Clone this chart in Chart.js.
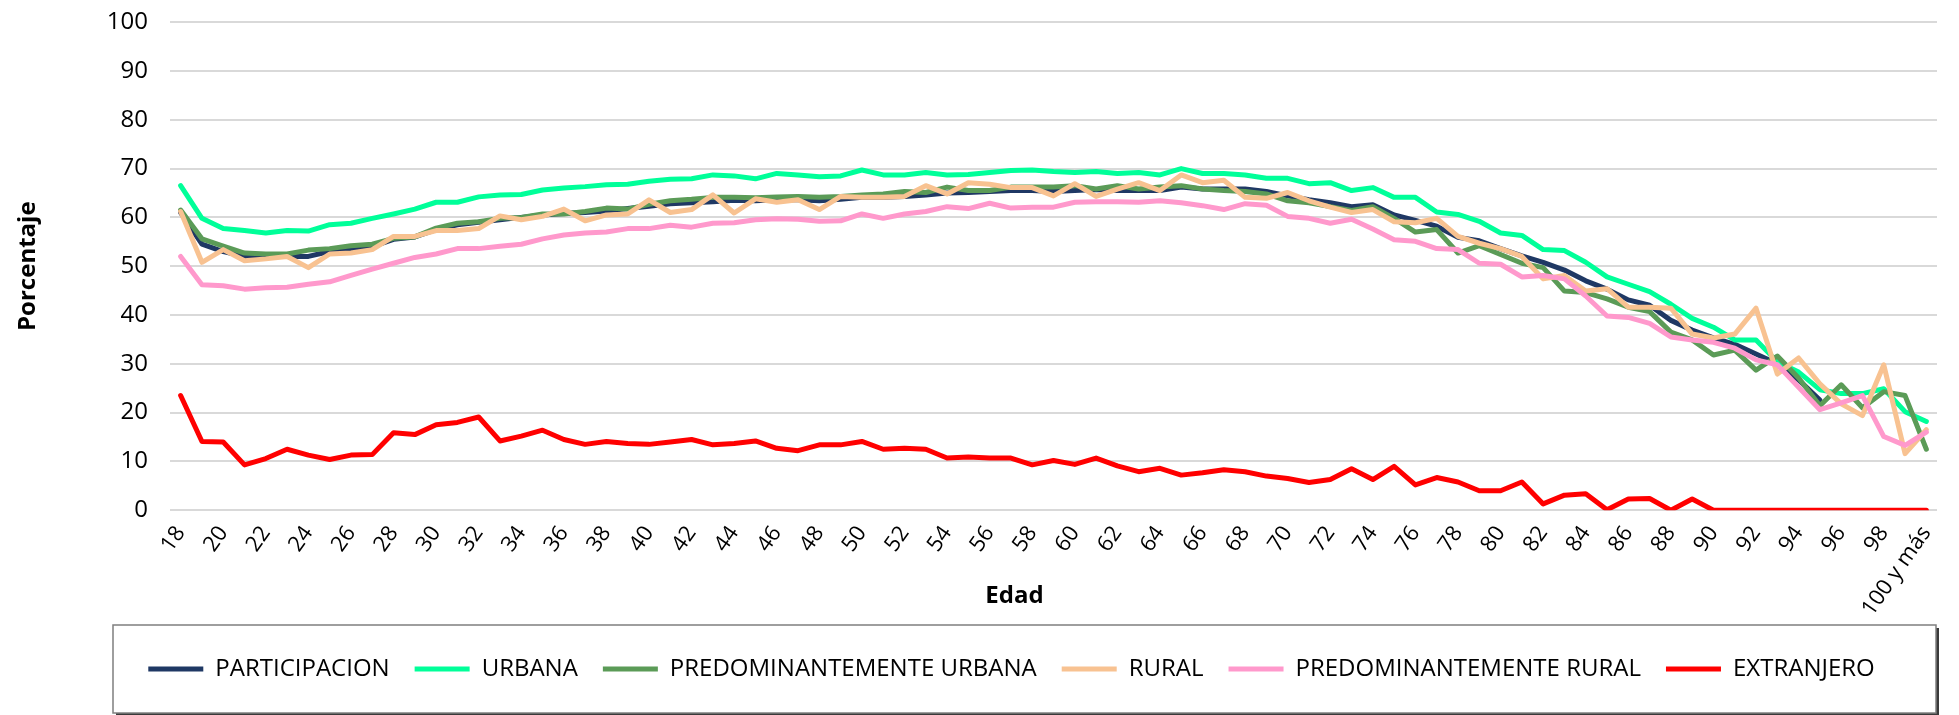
<!DOCTYPE html>
<html lang="es">
<head>
<meta charset="utf-8">
<title>Participación por edad</title>
<script src="https://cdn.jsdelivr.net/npm/chart.js@4.4.1/dist/chart.umd.min.js"></script>
<style>
    html, body { margin: 0; padding: 0; background: #fff; }
    #wrap { width: 1959px; height: 715px; position: relative; }
</style>
</head>
<body>
<div id="wrap"><canvas id="chartEdad"></canvas></div>
<script>
const edades = ['18', '19', '20', '21', '22', '23', '24', '25', '26', '27',
    '28', '29', '30', '31', '32', '33', '34', '35', '36', '37',
    '38', '39', '40', '41', '42', '43', '44', '45', '46', '47',
    '48', '49', '50', '51', '52', '53', '54', '55', '56', '57',
    '58', '59', '60', '61', '62', '63', '64', '65', '66', '67',
    '68', '69', '70', '71', '72', '73', '74', '75', '76', '77',
    '78', '79', '80', '81', '82', '83', '84', '85', '86', '87',
    '88', '89', '90', '91', '92', '93', '94', '95', '96', '97',
    '98', '99', '100 y más'];

const participacion = [61, 54.5, 53, 52, 52, 52, 52, 53, 53.5, 54,
    55.5, 56, 57.5, 58.5, 59, 59.5, 60, 60.5, 60.8, 61,
    61.3, 61.8, 62.3, 62.8, 63, 63.2, 63.5, 63.4, 63.6, 63.6,
    63.4, 63.7, 64.1, 64.1, 64.3, 64.6, 65.0, 65.1, 65.3, 65.5,
    65.5, 65.3, 65.5, 65.7, 65.5, 65.5, 65.5, 66.2, 65.8, 65.8,
    65.8, 65.3, 64.4, 63.6, 63.0, 62.2, 62.6, 60.5, 59.4, 58.2,
    55.9, 55.2, 53.6, 52.1, 50.8, 49.2, 47.0, 45.3, 43.1, 42.0,
    38.9, 36.9, 35.3, 34.0, 32.0, 30.0, 26.7, 22.6, null, null,
    null, null, null];

const urbana = [66.5, 59.8, 57.7, 57.3, 56.8, 57.3, 57.2, 58.5, 58.8, 59.8,
    60.7, 61.7, 63.1, 63.1, 64.2, 64.6, 64.7, 65.6, 66.0, 66.3,
    66.7, 66.8, 67.4, 67.8, 67.9, 68.7, 68.5, 67.9, 69.0, 68.7,
    68.3, 68.5, 69.7, 68.7, 68.7, 69.2, 68.7, 68.8, 69.2, 69.6,
    69.7, 69.4, 69.2, 69.4, 69.0, 69.2, 68.7, 70.0, 69.0, 69.0,
    68.7, 68.0, 68.0, 66.9, 67.1, 65.5, 66.1, 64.1, 64.1, 61.1,
    60.6, 59.2, 56.8, 56.3, 53.4, 53.2, 50.8, 47.8, 46.3, 44.8,
    42.2, 39.3, 37.5, 34.9, 34.9, 30.4, 28.3, 24.7, 23.9, 23.9,
    24.9, 20.2, 18.2];

const predUrbana = [61.5, 55.6, 54.1, 52.7, 52.5, 52.5, 53.3, 53.6, 54.2, 54.5,
    55.7, 56.0, 57.8, 58.8, 59.1, 59.8, 60.0, 60.7, 60.7, 61.2,
    61.9, 61.7, 62.7, 63.4, 63.7, 64.1, 64.1, 64.0, 64.2, 64.3,
    64.1, 64.3, 64.6, 64.8, 65.3, 65.1, 66.2, 65.5, 65.5, 66.2,
    66.2, 66.2, 66.5, 65.8, 66.5, 65.8, 66.2, 66.5, 65.8, 65.5,
    65.3, 64.8, 63.4, 63.0, 62.2, 61.4, 62.2, 59.8, 57.0, 57.5,
    52.7, 54.2, 52.4, 50.6, 49.7, 44.9, 44.6, 43.3, 41.6, 40.7,
    36.5, 34.9, 31.8, 32.8, 28.7, 31.6, 27.1, 21.4, 25.7, 21.0,
    24.3, 23.5, 12.5];

const rural = [61.2, 50.8, 53.4, 51.1, 51.5, 52.0, 49.7, 52.5, 52.7, 53.4,
    56.1, 56.1, 57.3, 57.3, 57.7, 60.3, 59.5, 60.2, 61.7, 59.3,
    60.5, 60.7, 63.6, 61.0, 61.6, 64.6, 60.9, 63.8, 63.1, 63.6,
    61.6, 64.3, 64.1, 64.1, 64.3, 66.5, 64.8, 67.1, 66.8, 66.1,
    66.1, 64.4, 66.9, 64.3, 65.8, 67.1, 65.5, 68.7, 67.1, 67.6,
    64.1, 63.9, 65.1, 63.4, 62.1, 61.0, 61.6, 59.1, 58.9, 59.8,
    56.1, 54.7, 53.6, 52.0, 47.4, 48.1, 44.9, 45.4, 41.6, 41.6,
    41.4, 36.1, 35.3, 36.1, 41.4, 27.9, 31.2, 25.9, 21.8, 19.4,
    29.8, 11.6, 16.5];

const predRural = [52.0, 46.2, 46.0, 45.3, 45.6, 45.7, 46.3, 46.8, 48.1, 49.4,
    50.6, 51.8, 52.5, 53.6, 53.6, 54.1, 54.5, 55.6, 56.4, 56.8,
    57.0, 57.7, 57.7, 58.4, 58.0, 58.8, 58.9, 59.5, 59.7, 59.6,
    59.2, 59.3, 60.7, 59.8, 60.7, 61.2, 62.2, 61.8, 62.9, 61.9,
    62.1, 62.1, 63.1, 63.2, 63.2, 63.1, 63.4, 63.0, 62.4, 61.6,
    62.8, 62.5, 60.2, 59.8, 58.8, 59.6, 57.6, 55.4, 55.1, 53.6,
    53.4, 50.6, 50.4, 47.8, 48.1, 47.4, 43.9, 39.8, 39.5, 38.3,
    35.5, 34.9, 34.4, 33.2, 30.8, 29.8, 25.2, 20.6, 22.0, 23.5,
    15.1, 13.3, 16.0];

const extranjero = [23.5, 14.1, 14.0, 9.3, 10.6, 12.5, 11.3, 10.4, 11.3, 11.4,
    15.9, 15.5, 17.5, 18.0, 19.1, 14.2, 15.2, 16.4, 14.5, 13.5,
    14.1, 13.7, 13.5, 14.0, 14.5, 13.4, 13.7, 14.2, 12.7, 12.2,
    13.4, 13.4, 14.1, 12.5, 12.7, 12.5, 10.7, 10.9, 10.7, 10.7,
    9.3, 10.2, 9.4, 10.7, 9.1, 7.9, 8.6, 7.2, 7.7, 8.3,
    7.9, 7.0, 6.5, 5.7, 6.3, 8.5, 6.3, 9.0, 5.2, 6.7,
    5.8, 4.0, 4.0, 5.8, 1.3, 3.1, 3.4, 0.1, 2.3, 2.4,
    0, 2.3, 0, 0, 0, 0, 0, 0, 0, 0,
    0, 0, 0];

const yTicks = [0, 10, 20, 30, 40, 50, 60, 70, 80, 90, 100];

const fuente = '"Open Sans", "DejaVu Sans", sans-serif';

// each series: name, values, color (first one ends up underneath, like the spreadsheet)
const series = [
    ['PARTICIPACION', participacion, '#1f3864'],
    ['URBANA', urbana, '#00ff99'],
    ['PREDOMINANTEMENTE URBANA', predUrbana, '#5b9b57'],
    ['RURAL', rural, '#f8c291'],
    ['PREDOMINANTEMENTE RURAL', predRural, '#ff99cc'],
    ['EXTRANJERO', extranjero, '#ff0000']
];

const datasets = series.map(function(s, i) {
    return {
        label: s[0],
        data: s[1],
        borderColor: s[2],
        backgroundColor: s[2],
        borderWidth: 5,
        borderCapStyle: 'round',
        borderJoinStyle: 'round',
        pointRadius: 0,
        pointHoverRadius: 0,
        tension: 0,
        spanGaps: false,
        order: series.length - i
    };
});

const LEYENDA_PAD = 25;
const LEYENDA_FONT = 24;

// frame around the legend, x-axis title, and legend centred in its frame
const marcoLeyenda = {
    id: 'marcoLeyenda',
    afterLayout(chart) {
        const leg = chart.legend;
        const area = chart.chartArea;
        const cy = leg.top + LEYENDA_PAD + LEYENDA_FONT / 2;
        const left = area.left - 57;
        const right = area.right - 1;
        chart.$marco = { left: left, right: right, top: cy - 44, bottom: cy + 44 };
        const shift = (left + right) / 2 - 13 - (leg.left + leg.right) / 2;
        leg.left += shift;
        leg.right += shift;
    },
    beforeDraw(chart) {
        const ctx = chart.ctx;
        const m = chart.$marco;
        if (!m) return;
        ctx.save();
        ctx.fillStyle = '#3a3a3a';
        ctx.fillRect(m.left + 3, m.top + 3, m.right - m.left, m.bottom - m.top);
        ctx.fillStyle = '#ffffff';
        ctx.fillRect(m.left, m.top, m.right - m.left, m.bottom - m.top);
        ctx.strokeStyle = '#7f7f7f';
        ctx.lineWidth = 1.5;
        ctx.strokeRect(m.left, m.top, m.right - m.left, m.bottom - m.top);

        // "Edad" sits beside the rotated tick labels, not under them
        const area = chart.chartArea;
        ctx.fillStyle = '#000';
        ctx.font = 'bold 24px ' + fuente;
        ctx.textAlign = 'center';
        ctx.textBaseline = 'middle';
        ctx.fillText('Edad', chart.width / 2 + 35, area.bottom + 86);
        ctx.restore();
    }
};

new Chart(document.getElementById('chartEdad'), {
    type: 'line',
    data: { labels: edades, datasets: datasets },
    plugins: [marcoLeyenda],
    options: {
        responsive: true,
        maintainAspectRatio: false,
        animation: false,
        layout: { padding: { left: 10, right: 3, top: 20, bottom: 24 } },
        plugins: {
            tooltip: { enabled: false },
            legend: {
                position: 'bottom',
                labels: {
                    usePointStyle: true,
                    pointStyle: 'line',
                    pointStyleWidth: 55,
                    padding: LEYENDA_PAD,
                    color: '#000',
                    font: { family: fuente, size: LEYENDA_FONT },
                    sort: function(a, b) { return a.datasetIndex - b.datasetIndex; }
                }
            }
        },
        scales: {
            x: {
                offset: true,
                grid: { display: false, drawTicks: false },
                border: { display: false },
                ticks: {
                    autoSkip: false,
                    maxRotation: 55,
                    minRotation: 55,
                    padding: 11,
                    color: '#000',
                    font: { family: fuente, size: 22 },
                    callback: function(value, index) {
                        return index % 2 === 0 ? edades[index] : null;
                    }
                }
            },
            y: {
                min: yTicks[0],
                max: yTicks[yTicks.length - 1],
                afterBuildTicks: function(scale) {
                    scale.ticks = yTicks.map(function(v) { return { value: v }; });
                },
                afterFit: function(scale) { scale.width = 160; },
                grid: { color: '#d9d9d9', lineWidth: 2, drawTicks: false },
                border: { display: false },
                ticks: {
                    padding: 22,
                    color: '#000',
                    // tiny line height keeps the top label from pushing the plot down
                    font: { family: fuente, size: 24, lineHeight: 0.01 }
                },
                title: {
                    display: true,
                    text: 'Porcentaje',
                    color: '#000',
                    font: { family: fuente, size: 24, weight: 'bold' },
                    padding: { top: 4, bottom: 4 }
                }
            }
        }
    }
});
</script>
</body>
</html>
